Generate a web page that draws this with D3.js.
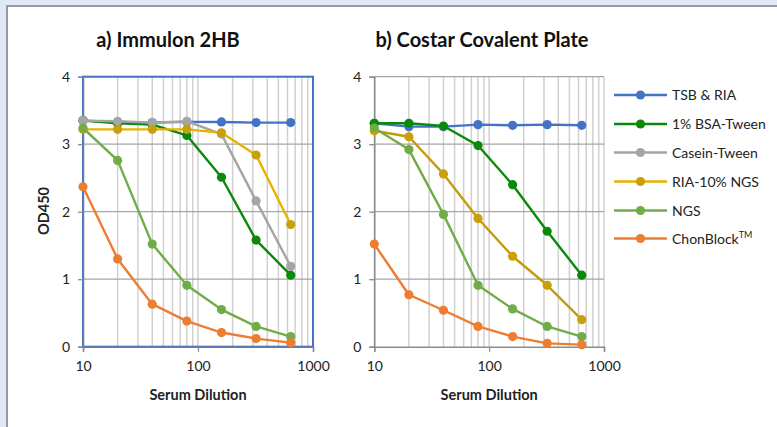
<!DOCTYPE html>
<html><head><meta charset="utf-8">
<script src="https://cdn.jsdelivr.net/npm/d3@7"></script>
<style>
body{margin:0;padding:0;background:#fff;}
svg{display:block;font-family:Lato,"Open Sans",sans-serif;}
</style></head><body>
<svg id="chart" width="777" height="427"></svg>
<script>
const dilutions = [10, 20, 40, 80, 160, 320, 640];
const seriesNames = ["TSB & RIA", "1% BSA-Tween", "Casein-Tween", "RIA-10% NGS", "NGS", "ChonBlock"];
const seriesColors = ["#4472c4", "#0a8a0a", "#a5a5a5", "#c9a00a", "#70ad47", "#ed7d31"];
const lineColorsA = ["#4472c4", "#0a8a0a", "#a5a5a5", "#e8b200", "#70ad47", "#ed7d31"];
const lineColorsB = ["#4472c4", "#0a8a0a", "#a5a5a5", "#c49b0f", "#70ad47", "#ed7d31"];
// Panel a) Immulon 2HB
const immulonTSB    = [3.35, 3.33, 3.32, 3.33, 3.33, 3.32, 3.32];
const immulonBSA    = [3.35, 3.31, 3.29, 3.13, 2.51, 1.58, 1.06];
const immulonCasein = [3.35, 3.34, 3.32, 3.34, 3.15, 2.16, 1.19];
const immulonRIA    = [3.22, 3.22, 3.22, 3.22, 3.17, 2.84, 1.81];
const immulonNGS    = [3.24, 2.76, 1.52, 0.91, 0.55, 0.30, 0.15];
const immulonChon   = [2.37, 1.30, 0.63, 0.38, 0.21, 0.12, 0.06];
// Panel b) Costar Covalent Plate
const costarTSB    = [3.31, 3.26, 3.26, 3.29, 3.28, 3.29, 3.28];
const costarBSA    = [3.31, 3.31, 3.27, 2.98, 2.40, 1.71, 1.06];
const costarCasein = [];
const costarRIA    = [3.20, 3.11, 2.56, 1.90, 1.34, 0.91, 0.40];
const costarNGS    = [3.24, 2.92, 1.96, 0.91, 0.56, 0.30, 0.15];
const costarChon   = [1.52, 0.77, 0.54, 0.30, 0.15, 0.05, 0.03];
const yTicks = [0, 1, 2, 3, 4];
const xTicks = [10, 100, 1000];
const titles = ["a) Immulon 2HB", "b) Costar Covalent Plate"];
const xTitle = "Serum Dilution";
const yTitle = "OD450";

const svg = d3.select("#chart");
// background frame
svg.append("rect").attr("x",0).attr("y",0).attr("width",777).attr("height",427).attr("fill","#dfe9f5");
svg.append("rect").attr("x",7).attr("y",6).attr("width",780).attr("height",430).attr("fill","#fff")
  .attr("stroke","#9a9a9a").attr("stroke-width",2);

const panels = [
  {left:83, right:313, data:[immulonTSB,immulonBSA,immulonCasein,immulonRIA,immulonNGS,immulonChon], lineColors: lineColorsA, blue:true, titleX:168},
  {left:374.3, right:604, data:[costarTSB,costarBSA,costarCasein,costarRIA,costarNGS,costarChon], lineColors: lineColorsB, blue:false, titleX:482}
];
const plotTop = 76.7, plotBottom = 346.7;

panels.forEach((p, pi) => {
  const x = d3.scaleLog().domain([10,1000]).range([p.left, p.right]);
  const y = d3.scaleLinear().domain([0,4]).range([plotBottom, plotTop]);
  const g = svg.append("g");
  // vertical gridlines
  const minor = [];
  for (let d = 10; d < 1000; d *= 10) for (let k = 1; k <= 9; k++) minor.push(d*k);
  minor.push(1000);
  g.selectAll(".vg").data(minor).enter().append("line")
    .attr("x1", d => x(d)).attr("x2", d => x(d)).attr("y1", plotTop).attr("y2", plotBottom)
    .attr("stroke", "#d0d0d0").attr("stroke-width", 1.5);
  // horizontal gridlines
  g.selectAll(".hg").data(yTicks.filter(t => t > 0)).enter().append("line")
    .attr("x1", p.left).attr("x2", p.right).attr("y1", d => y(d)).attr("y2", d => y(d))
    .attr("stroke", "#a6a6a6").attr("stroke-width", 1.3);
  if (p.blue) {
    g.append("rect").attr("x", p.left).attr("y", plotTop).attr("width", p.right - p.left).attr("height", plotBottom - plotTop)
      .attr("fill", "none").attr("stroke", "#4472c4").attr("stroke-width", 2);
  }
  const axisColor = p.blue ? "#6a7ca0" : "#8c8c8c";
  // y axis
  const ya = g.append("g").attr("transform", `translate(${p.left},0)`)
    .call(d3.axisLeft(y).tickValues(yTicks).tickSize(5).tickPadding(8).tickFormat(d3.format("d")));
  ya.select(".domain").attr("stroke", axisColor).attr("stroke-width", 1.5);
  ya.selectAll(".tick line").attr("stroke", "#8c8c8c").attr("stroke-width", 1.3);
  ya.selectAll("text").attr("font-size", 14).attr("fill", "#222").attr("font-family", "Lato,sans-serif");
  // x axis
  const xa = g.append("g").attr("transform", `translate(0,${plotBottom})`)
    .call(d3.axisBottom(x).tickValues(xTicks).tickSize(5).tickPadding(9).tickFormat(d3.format("d")));
  xa.select(".domain").attr("stroke", axisColor).attr("stroke-width", 1.5);
  xa.selectAll(".tick line").attr("stroke", "#8c8c8c").attr("stroke-width", 1.3);
  xa.selectAll("text").attr("font-size", 14).attr("fill", "#222").attr("font-family", "Lato,sans-serif");
  // titles
  svg.append("text").attr("x", p.titleX).attr("y", 46.5).attr("text-anchor", "middle")
    .attr("font-size", 20).attr("font-weight", "bold").attr("fill", "#111").text(titles[pi]);
  svg.append("text").attr("x", (p.left + p.right)/2).attr("y", 399.5).attr("text-anchor", "middle")
    .attr("font-size", 14.5).attr("font-weight", "bold").attr("fill", "#222").text(xTitle);
  // series
  const line = d3.line().x((d,i) => x(dilutions[i])).y(d => y(d));
  p.data.forEach((vals, si) => {
    if (!vals.length) return;
    const sg = g.append("g");
    sg.append("path").attr("d", line(vals)).attr("fill", "none")
      .attr("stroke", p.lineColors[si]).attr("stroke-width", 2.4).attr("stroke-linejoin", "round");
    sg.selectAll("circle").data(vals).enter().append("circle")
      .attr("cx", (d,i) => x(dilutions[i])).attr("cy", d => y(d)).attr("r", 4.6)
      .attr("fill", seriesColors[si]);
  });
});
// y title (left panel only)
svg.append("text").attr("transform", "translate(49,211) rotate(-90)").attr("text-anchor", "middle")
  .attr("font-size", 14.5).attr("font-weight", "bold").attr("fill", "#222").text(yTitle);

// legend
const legY = [95, 124, 152.5, 181.5, 210.5, 238.5];
const lg = svg.append("g");
seriesNames.forEach((n, i) => {
  lg.append("line").attr("x1", 614).attr("x2", 667).attr("y1", legY[i]).attr("y2", legY[i])
    .attr("stroke", lineColorsA[i]).attr("stroke-width", 2.4);
  lg.append("circle").attr("cx", 640.5).attr("cy", legY[i]).attr("r", 4.6).attr("fill", seriesColors[i]);
  const t = lg.append("text").attr("x", 672).attr("y", legY[i] + 5).attr("font-size", 14).attr("fill", "#222").text(n);
  if (n === "ChonBlock") t.append("tspan").attr("dy", -6).attr("font-size", 9).text("TM");
});
</script>
</body></html>
